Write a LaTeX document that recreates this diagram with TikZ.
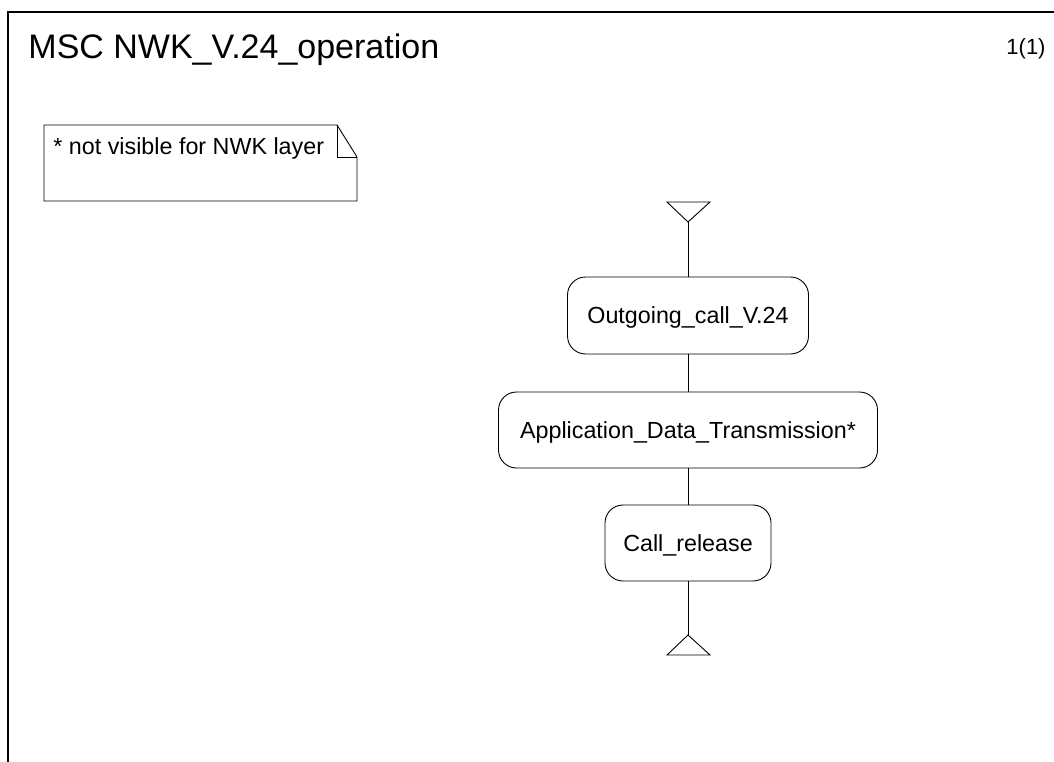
\documentclass[tikz,border=0pt]{standalone}
\usepackage{fontspec}
\setmainfont{Liberation Sans}
\begin{document}
\begin{tikzpicture}[x=1pt,y=-1pt,line width=0.9pt,
  ref/.style={draw,rounded corners=18pt,inner sep=0pt,text height=16.5pt,text depth=0pt,
    font=\fontsize{23.3}{27}\selectfont},
  txt/.style={inner sep=0pt}]
\useasboundingbox (0,0) rectangle (1054,762);
% frame (left and top edges)
\draw[line width=1.2pt] (8,762) -- (8,12) -- (1054,12);
\node[txt,anchor=base west,font=\fontsize{34}{39}\selectfont] (title) at (28,59) {MSC NWK\_V.24\_operation};
\node[txt,anchor=base east,font=\fontsize{22}{26}\selectfont] (page) at (1046,55) {1(1)};
% comment note
\draw (44,125) -- (337,125) -- (357,157) -- (357,201) -- (44,201) -- cycle;
\draw (337,125) -- (337,157) -- (357,157);
\node[txt,anchor=base west,font=\fontsize{23.3}{27}\selectfont] (note) at (53,155) {* not visible for NWK layer};
% start symbol
\coordinate (start) at (688,222);
\draw (667,202) -- (710,202) -- (start) -- cycle;
% references
\node[ref,minimum width=241pt,minimum height=77pt] (r1) at (688,315.5) {Outgoing\_call\_V.24};
\node[ref,minimum width=379pt,minimum height=76pt] (r2) at (688,430) {Application\_Data\_Transmission*};
\node[ref,minimum width=166pt,minimum height=76pt] (r3) at (688,543) {Call\_release};
% end symbol
\coordinate (stop) at (688,635);
\draw (stop) -- (667,655) -- (710,655) -- cycle;
% lifeline connectors
\draw (start) -- (r1.north);
\draw (r1.south) -- (r2.north);
\draw (r2.south) -- (r3.north);
\draw (r3.south) -- (stop);
\end{tikzpicture}
\end{document}
